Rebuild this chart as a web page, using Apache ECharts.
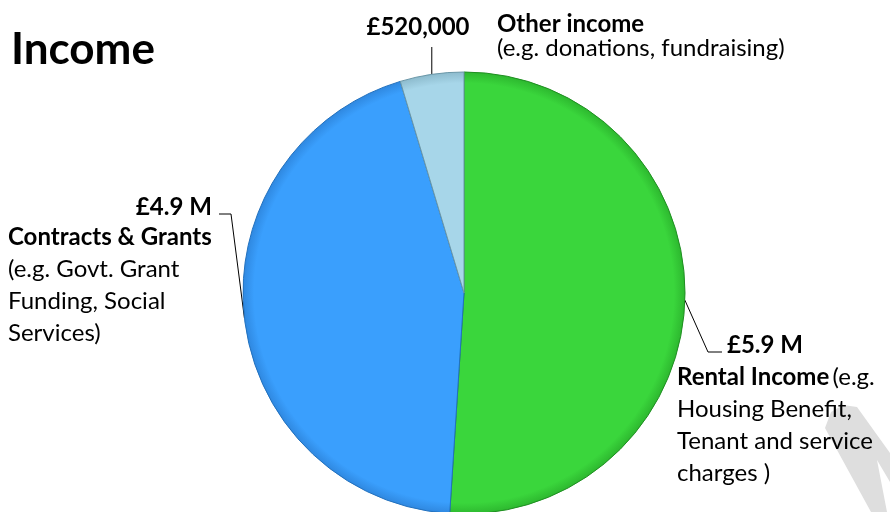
<!DOCTYPE html>
<html><head><meta charset="utf-8">
<script src="https://cdn.jsdelivr.net/npm/echarts@6/dist/echarts.min.js"></script>
<style>html,body{margin:0;padding:0;background:#fff}#c{width:890px;height:512px}</style>
</head><body><div id="c"></div>
<script>
// ---- data ----
const categories = ['Rental Income', 'Contracts & Grants', 'Other income'];
// slice sizes (£ millions)
const values = [5.7, 4.95, 0.52];
const valueLabels = ['£5.9 M', '£4.9 M', '£520,000'];
const descriptions = [
  ['(e.g.', 'Housing Benefit,', 'Tenant and service', 'charges )'],
  ['(e.g. Govt. Grant', 'Funding, Social', 'Services)'],
  ['(e.g. donations, fundraising)']
];
const colors = ['#3AD63C', '#3A9FFD', '#A7D6E9'];
const rims = ['#2DB82F', '#2F88E0', '#8DBBCD'];
const borders = ['#1F8F21', '#2271BE', '#6A97A8'];

// ---- layout ----
const CX = 464, CY = 293, R = 221;
const FONT = 'Lato';
const FS = 24;

const total = values.reduce((a, b) => a + b, 0);
function midPoint(i) {
  let before = 0;
  for (let k = 0; k < i; k++) before += values[k];
  const a = (before + values[i] / 2) / total * 2 * Math.PI; // clockwise from 12 o'clock
  return [CX + R * Math.sin(a), CY - R * Math.cos(a)];
}

const labelFormatters = [
  '{v|' + valueLabels[0] + '}\n{n|' + categories[0] + '} {d|' + descriptions[0][0] + '}\n' +
    descriptions[0].slice(1).map(s => '{d|' + s + '}').join('\n'),
  '{vr|' + valueLabels[1] + '}\n{n|' + categories[1] + '}\n' +
    descriptions[1].map(s => '{d|' + s + '}').join('\n'),
  '{v3|' + valueLabels[2] + '}'
];

const labelPlacement = [
  { x: 677, y: 329, align: 'left', verticalAlign: 'top', bend: [708, 352], end: [722, 352] },
  { x: 8, y: 194, align: 'left', verticalAlign: 'top', bend: [231, 214], end: [219, 214] },
  { x: 418, y: 27, align: 'center', verticalAlign: 'middle', bend: null, end: null }
];

const rich = {
  v: { fontFamily: FONT, fontSize: FS, fontWeight: 'bold', color: '#000', lineHeight: 32, padding: [0, 0, 0, 50] },
  vr: { fontFamily: FONT, fontSize: FS, fontWeight: 'bold', color: '#000', lineHeight: 27, align: 'right', padding: [0, 0, 0, 0] },
  v3: { fontFamily: FONT, fontSize: FS, fontWeight: 'bold', color: '#000' },
  n: { fontFamily: FONT, fontSize: FS, fontWeight: 'bold', color: '#000', lineHeight: 32 },
  d: { fontFamily: FONT, fontSize: FS, color: '#000', lineHeight: 32 }
};

function fillFor(i) {
  return {
    type: 'radial', x: CX, y: CY, r: R, global: true,
    colorStops: [
      { offset: 0, color: colors[i] },
      { offset: 0.95, color: colors[i] },
      { offset: 1, color: rims[i] }
    ]
  };
}

const chart = echarts.init(document.getElementById('c'), null, { renderer: 'canvas' });
chart.setOption({
  animation: false,
  backgroundColor: '#fff',
  title: {
    text: 'Income', left: 6, top: 23,
    textStyle: { fontFamily: FONT, fontSize: 44, fontWeight: 'bold', color: '#000' }
  },
  graphic: [
    { type: 'polygon', silent: true, z: -10,
      shape: { points: [[825,428],[831,412],[843,405],[857,407],[890,453],[890,482],[877,460],[887,512],[871,512]] },
      style: { fill: '#DEDEDE' } },
    { type: 'text', x: 497, y: 24, style: { text: categories[2], font: 'bold ' + FS + 'px ' + FONT, fill: '#000', verticalAlign: 'middle' } },
    { type: 'text', x: 497, y: 48, style: { text: descriptions[2][0], font: FS + 'px ' + FONT, fill: '#000', verticalAlign: 'middle' } }
  ],
  series: [{
    type: 'pie',
    center: [CX, CY],
    radius: R,
    startAngle: 90,
    clockwise: true,
    avoidLabelOverlap: false,
    label: { show: true, position: 'outside', rich: rich, color: '#000' },
    labelLine: { show: true, length: 10, length2: 10, lineStyle: { color: '#000', width: 1 } },
    labelLayout: function (p) {
      const i = p.dataIndex;
      const pl = labelPlacement[i];
      const p0 = midPoint(i);
      const pts = pl.bend ? [p0, pl.bend, pl.end] : [p0, [p0[0], 48], [p0[0], 47]];
      return { x: pl.x, y: pl.y, align: pl.align, verticalAlign: pl.verticalAlign, labelLinePoints: pts };
    },
    emphasis: { disabled: true },
    data: categories.map((c, i) => ({
      name: c, value: values[i],
      itemStyle: { color: fillFor(i), borderColor: borders[i], borderWidth: 1 },
      label: { formatter: labelFormatters[i] }
    }))
  }]
});
</script>
</body></html>
